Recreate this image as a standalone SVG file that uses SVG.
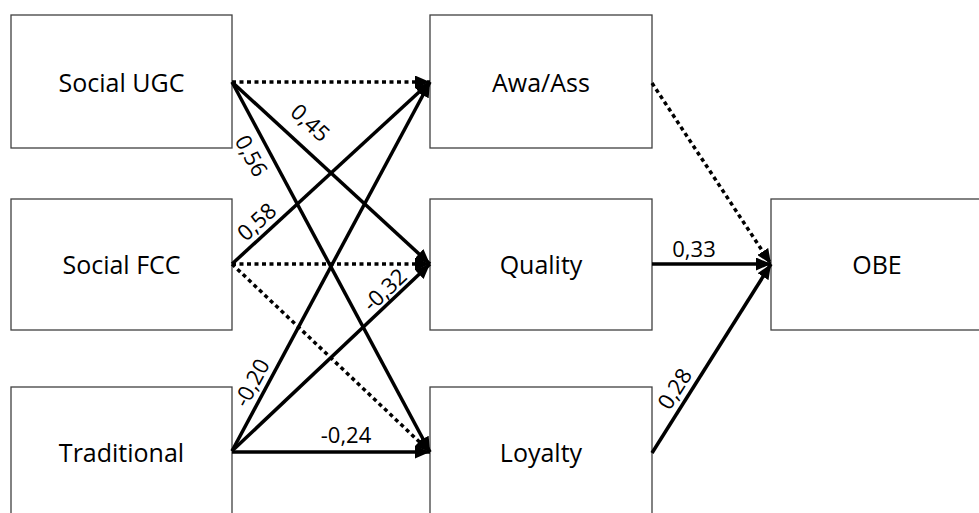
<svg xmlns="http://www.w3.org/2000/svg" width="979" height="513" viewBox="0 0 979 513">
  <style>
    .box { fill: #ffffff; stroke: #404040; stroke-width: 1.3; }
    .name { font-family: "Open Sans", "Liberation Sans", sans-serif; font-size: 25px; fill: #000000; text-anchor: middle; }
    .coef { font-family: "Open Sans", "Liberation Sans", sans-serif; font-size: 22px; fill: #000000; text-anchor: middle; }
    .path { fill: none; stroke: #000000; stroke-width: 3.5; }
    .dot { stroke-dasharray: 4 3.5; }
  </style>
  <defs>
    <marker id="head" viewBox="0 0 15 13" refX="15" refY="6.5" markerWidth="15" markerHeight="13" markerUnits="userSpaceOnUse" orient="auto">
      <path d="M0,0 L15,6.5 L0,13 Z" fill="#000000"/>
    </marker>
  </defs>

  <rect x="0" y="0" width="979" height="513" fill="#ffffff"/>

  <!-- source constructs -->
  <g id="social-ugc">
    <rect class="box" x="11" y="15" width="221" height="133"/>
    <text class="name" x="121.5" y="92">Social UGC</text>
  </g>
  <g id="social-fcc">
    <rect class="box" x="11" y="199" width="221" height="131"/>
    <text class="name" x="121.5" y="274">Social FCC</text>
  </g>
  <g id="traditional">
    <rect class="box" x="11" y="387" width="221" height="130"/>
    <text class="name" x="121.5" y="462">Traditional</text>
  </g>

  <!-- mediating constructs -->
  <g id="awa-ass">
    <rect class="box" x="430" y="15" width="222" height="133"/>
    <text class="name" x="541" y="92">Awa/Ass</text>
  </g>
  <g id="quality">
    <rect class="box" x="430" y="199" width="222" height="131"/>
    <text class="name" x="541" y="274">Quality</text>
  </g>
  <g id="loyalty">
    <rect class="box" x="430" y="387" width="222" height="130"/>
    <text class="name" x="541" y="462">Loyalty</text>
  </g>

  <!-- outcome -->
  <g id="obe">
    <rect class="box" x="771" y="199" width="221" height="131"/>
    <text class="name" x="877" y="274">OBE</text>
  </g>

  <!-- paths between constructs -->
  <g id="connectors">
    <line class="path dot" x1="232" y1="82" x2="430" y2="82" marker-end="url(#head)"/>
    <line class="path" x1="232" y1="82" x2="430" y2="264" marker-end="url(#head)"/>
    <line class="path" x1="232" y1="82" x2="430" y2="452" marker-end="url(#head)"/>
    <line class="path" x1="232" y1="264" x2="430" y2="82" marker-end="url(#head)"/>
    <line class="path dot" x1="232" y1="264" x2="430" y2="264" marker-end="url(#head)"/>
    <line class="path dot" x1="232" y1="264" x2="430" y2="452" marker-end="url(#head)"/>
    <line class="path" x1="232" y1="451" x2="430" y2="82" marker-end="url(#head)"/>
    <line class="path" x1="232" y1="451" x2="430" y2="264" marker-end="url(#head)"/>
    <line class="path" x1="232" y1="452" x2="430" y2="452" marker-end="url(#head)"/>
    <line class="path dot" x1="652" y1="83" x2="771" y2="264" marker-end="url(#head)"/>
    <line class="path" x1="652" y1="264" x2="771" y2="264" marker-end="url(#head)"/>
    <line class="path" x1="652" y1="453" x2="771" y2="264" marker-end="url(#head)"/>

    <!-- path coefficients -->
    <text class="coef" transform="translate(310,123) rotate(42.6)" y="7.5">0,45</text>
    <text class="coef" transform="translate(251,156) rotate(61.8)" y="7.5">0,56</text>
    <text class="coef" transform="translate(257,222) rotate(-42.6)" y="7.5">0,58</text>
    <text class="coef" transform="translate(252,383) rotate(-61.8)" y="7.5">-0,20</text>
    <text class="coef" transform="translate(385,290) rotate(-43.4)" y="7.5">-0,32</text>
    <text class="coef" x="346" y="443">-0,24</text>
    <text class="coef" x="694" y="257">0,33</text>
    <text class="coef" transform="translate(675,389) rotate(-57.8)" y="7.5">0,28</text>
  </g>
</svg>
